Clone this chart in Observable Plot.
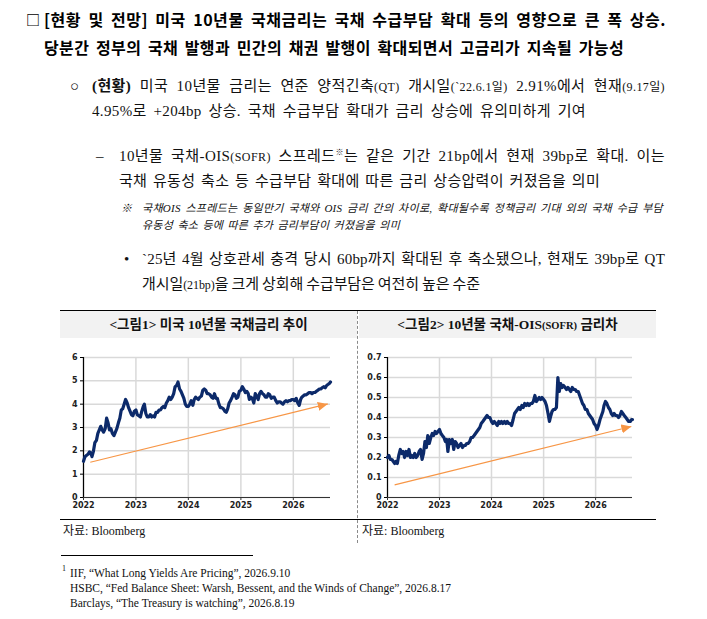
<!DOCTYPE html>
<html><head><meta charset="utf-8">
<script src="https://cdn.jsdelivr.net/npm/d3@7"></script>
<script src="https://cdn.jsdelivr.net/npm/@observablehq/plot@0.6"></script>
<style>
body{margin:0;background:#fff;}
#page{position:relative;width:707px;height:619px;overflow:hidden;font-family:"Liberation Serif","Noto Sans CJK KR",serif;color:#111;}
.ln{position:absolute;white-space:nowrap;}
.t{font-family:"Noto Sans CJK KR",sans-serif;font-weight:700;font-size:16px;line-height:20px;color:#000;}
.b{font-size:15px;line-height:20px;}
.sm{font-size:12px;}
.note{font-style:italic;font-size:11px;line-height:14px;}
.hdr{position:absolute;top:311px;height:27px;background:#f2f2f2;text-align:center;font-weight:700;font-size:13.5px;line-height:27px;}
.src{font-size:12px;line-height:16px;}
.fn{font-size:11.5px;line-height:15px;}
.chart{position:absolute;top:338px;}
sup{font-size:8px;line-height:0;}
</style></head>
<body><div id="page">
<div class="ln t" style="left:26px;top:9px;font-size:14px;">□</div>
<div class="ln t" data-r="666" style="left:44px;top:9px;">[현황 및 전망] 미국 10년물 국채금리는 국채 수급부담 확대 등의 영향으로 큰 폭 상승.</div>
<div class="ln t" data-r="624" style="left:44px;top:37px;">당분간 정부의 국채 발행과 민간의 채권 발행이 확대되면서 고금리가 지속될 가능성</div>

<div class="ln b" style="left:70px;top:76px;">○</div>
<div class="ln b" data-r="665" style="left:92px;top:76px;"><b>(현황)</b> 미국 10년물 금리는 연준 양적긴축<span class="sm">(QT)</span> 개시일<span class="sm">(`22.6.1일)</span> 2.91%에서 현재<span class="sm">(9.17일)</span></div>
<div class="ln b" data-r="586" style="left:92px;top:101px;">4.95%로 +204bp 상승. 국채 수급부담 확대가 금리 상승에 유의미하게 기여</div>

<div class="ln b" style="left:96px;top:146px;">–</div>
<div class="ln b" data-r="665" style="left:119px;top:146px;">10년물 국채-OIS<span class="sm">(SOFR)</span> 스프레드<sup>※</sup>는 같은 기간 21bp에서 현재 39bp로 확대. 이는</div>
<div class="ln b" data-r="600" style="left:119px;top:171px;">국채 유동성 축소 등 수급부담 확대에 따른 금리 상승압력이 커졌음을 의미</div>

<div class="ln note" style="left:121px;top:201px;">※</div>
<div class="ln note" data-r="663" style="left:142px;top:201px;">국채OIS 스프레드는 동일만기 국채와 OIS 금리 간의 차이로, 확대될수록 정책금리 기대 외의 국채 수급 부담</div>
<div class="ln note" data-r="400" style="left:142px;top:218px;">유동성 축소 등에 따른 추가 금리부담이 커졌음을 의미</div>

<div class="ln b" style="left:124px;top:249px;">•</div>
<div class="ln b" data-r="665" style="left:142px;top:249px;">`25년 4월 상호관세 충격 당시 60bp까지 확대된 후 축소됐으나, 현재도 39bp로 QT</div>
<div class="ln b" data-r="480" style="left:142px;top:274px;">개시일<span class="sm">(21bp)</span>을 크게 상회해 수급부담은 여전히 높은 수준</div>

<div style="position:absolute;left:60px;top:310px;width:596px;border-top:1.5px solid #000;"></div>
<div class="hdr" style="left:60px;width:297px;">&lt;그림1&gt; 미국 10년물 국채금리 추이</div>
<div class="hdr" style="left:359px;width:297px;">&lt;그림2&gt; 10년물 국채-OIS<span style="font-size:10.5px">(SOFR)</span> 금리차</div>
<div style="position:absolute;left:60px;top:519px;width:596px;border-top:1.2px solid #000;"></div>
<div style="position:absolute;left:357px;top:311px;height:232px;border-left:1px dashed #8a8a8a;"></div>
<div id="c1" class="chart" style="left:60px;"></div>
<div id="c2" class="chart" style="left:358px;"></div>
<div class="ln src" style="left:63px;top:523px;">자료: Bloomberg</div>
<div class="ln src" style="left:362px;top:523px;">자료: Bloomberg</div>

<div style="position:absolute;left:61px;top:555px;width:192px;border-top:1px solid #000;"></div>
<div class="ln" style="left:62px;top:564px;font-size:8px;line-height:9px;">1</div>
<div class="ln fn" style="left:70px;top:566px;">IIF, “What Long Yields Are Pricing”, 2026.9.10</div>
<div class="ln fn" data-r="451" style="left:70px;top:581px;">HSBC, “Fed Balance Sheet: Warsh, Bessent, and the Winds of Change”, 2026.8.17</div>
<div class="ln fn" style="left:70px;top:596px;">Barclays, “The Treasury is watching”, 2026.8.19</div>
</div>
<script>
// sampling days within each month (1st, 11th, 21st)
const sampleDays = [1, 11, 21];
const lastDate = "2026-09-17";

// US 10Y Treasury yield (%)
const ust2022 = [1.55,1.75,1.80, 1.85,1.95,1.92, 1.75,1.98,2.35, 2.45,2.75,2.90, 3.05,2.90,2.80, 2.95,3.40,3.20, 2.90,2.95,2.75, 2.65,2.80,2.95, 3.20,3.40,3.75, 3.80,4.00,4.20, 4.05,3.85,3.70, 3.55,3.50,3.70];
const ust2023 = [3.75,3.55,3.50, 3.45,3.70,3.90, 4.00,3.60,3.45, 3.45,3.55,3.45, 3.50,3.45,3.65, 3.65,3.75,3.75, 3.85,3.90,3.85, 4.05,4.15,4.30, 4.20,4.30,4.45, 4.75,4.80,4.95, 4.65,4.55,4.40, 4.25,4.00,3.90];
const ust2024 = [3.90,4.00,4.15, 3.95,4.20,4.30, 4.25,4.20,4.30, 4.35,4.60,4.65, 4.60,4.45,4.45, 4.40,4.30,4.25, 4.45,4.25,4.25, 4.00,3.85,3.85, 3.80,3.70,3.65, 3.80,4.05,4.15, 4.30,4.45,4.40, 4.25,4.30,4.55];
const ust2025 = [4.60,4.75,4.65, 4.50,4.55,4.45, 4.20,4.30,4.25, 4.05,4.45,4.35, 4.20,4.45,4.55, 4.45,4.40,4.30, 4.30,4.45,4.40, 4.25,4.30,4.30, 4.15,4.05,4.10, 4.10,4.05,4.00, 4.10,4.15,4.10, 4.15,4.15,4.20];
const ust2026 = [4.20,4.15,4.25, 4.05,3.95,4.20, 4.30,4.35,4.40, 4.40,4.45,4.50, 4.50,4.45,4.50, 4.50,4.55,4.60, 4.65,4.65,4.70, 4.75,4.70,4.80, 4.85,4.90];
const ustLast = 4.95;

// 10Y Treasury - OIS(SOFR) spread (%p)
const ois2022 = [0.20,0.21,0.19, 0.19,0.18,0.17, 0.18,0.17,0.21, 0.24,0.22,0.23, 0.20,0.23,0.21, 0.24,0.20,0.21, 0.20,0.22,0.20, 0.21,0.23,0.24, 0.19,0.22,0.28, 0.25,0.31,0.27, 0.30,0.32,0.31, 0.33,0.32,0.33];
const ois2023 = [0.34,0.32,0.31, 0.30,0.28,0.29, 0.23,0.29,0.27, 0.29,0.24,0.28, 0.27,0.25,0.26, 0.27,0.25,0.26, 0.26,0.27,0.27, 0.28,0.30,0.30, 0.31,0.32,0.33, 0.34,0.35,0.37, 0.38,0.39,0.40, 0.41,0.40,0.40];
const ois2024 = [0.38,0.37,0.38, 0.37,0.36,0.38, 0.37,0.38,0.37, 0.38,0.37,0.38, 0.37,0.37,0.36, 0.39,0.42,0.43, 0.44,0.45,0.44, 0.46,0.45,0.47, 0.46,0.47,0.46, 0.47,0.47,0.48, 0.51,0.48,0.49, 0.50,0.49,0.50];
const ois2025 = [0.49,0.48,0.46, 0.42,0.38,0.41, 0.43,0.44,0.44, 0.45,0.60,0.53, 0.57,0.55,0.56, 0.55,0.54,0.55, 0.54,0.53,0.55, 0.54,0.54,0.53, 0.53,0.51,0.49, 0.47,0.46,0.44, 0.44,0.42,0.41, 0.40,0.39,0.37];
const ois2026 = [0.36,0.34,0.36, 0.39,0.41,0.43, 0.46,0.48,0.47, 0.45,0.44,0.42, 0.41,0.42,0.41, 0.41,0.40,0.41, 0.43,0.42,0.41, 0.40,0.39,0.38, 0.38,0.39];
const oisLast = 0.39;

// axes
const xStart = "2022-01-01";
const xEnd = "2026-09-17";
const yearTicks = ["2022-01-01","2023-01-01","2024-01-01","2025-01-01","2026-01-01"];
const yTicks1 = [0,1,2,3,4,5,6];
const yTicks2 = [0,0.1,0.2,0.3,0.4,0.5,0.6,0.7];

// trend arrows [start date, start value, end date, end value]
const arrow1 = ["2022-02-17", 1.51, "2026-08-29", 4.01];
const arrow2 = ["2022-02-20", 0.063, "2026-09-09", 0.355];

function build(years, lastVal) {
  const out = [];
  years.forEach(([yr, vals]) => vals.forEach((v, i) => out.push({date: new Date(Date.UTC(yr, Math.floor(i / 3), sampleDays[i % 3])), v})));
  out.push({date: new Date(lastDate), v: lastVal});
  return out;
}
const ust = build([[2022, ust2022], [2023, ust2023], [2024, ust2024], [2025, ust2025], [2026, ust2026]], ustLast);
const ois = build([[2022, ois2022], [2023, ois2023], [2024, ois2024], [2025, ois2025], [2026, ois2026]], oisLast);

const navy = "#0c2a6a", orange = "#f79646", grid = "#d9d9d9";
const yt = yearTicks.map(d => new Date(d));

function chart(data, yDomain, yTicks, arrow, width, ml, mr) {
  const a = [{x1: new Date(arrow[0]), y1: arrow[1], x2: new Date(arrow[2]), y2: arrow[3]}];
  return Plot.plot({
    width, height: 181,
    marginLeft: ml, marginRight: mr, marginTop: 19, marginBottom: 22,
    style: {fontFamily: "DejaVu Sans", fontSize: "8px", fontWeight: "bold", color: "#222", background: "transparent", overflow: "visible"},
    x: {type: "utc", domain: [new Date(xStart), new Date(xEnd)], label: null},
    y: {domain: yDomain, label: null},
    marks: [
      Plot.gridX(yt, {stroke: grid, strokeOpacity: 1, strokeWidth: 1.5}),
      Plot.gridY(yTicks, {stroke: grid, strokeOpacity: 1, strokeWidth: 1.5}),
      Plot.axisX(yt, {tickFormat: d3.utcFormat("%Y"), tickSize: 3, tickPadding: 2, stroke: "#333"}),
      Plot.axisY(yTicks, {tickSize: 3, tickPadding: 3, stroke: "#000", tickFormat: d => String(d)}),
      Plot.ruleY([yDomain[0]], {stroke: "#333", strokeWidth: 1.2}),
      Plot.ruleX([new Date(xStart)], {stroke: "#000", strokeWidth: 1.2}),
      Plot.link(a, {x1: "x1", y1: "y1", x2: "x2", y2: "y2", stroke: orange, strokeWidth: 1.2}),
      Plot.line(data, {x: "date", y: "v", stroke: navy, strokeWidth: 3.2, strokeLinejoin: "round"})
    ]
  });
}

function addHead(svg, id) {
  const ns = "http://www.w3.org/2000/svg";
  const defs = document.createElementNS(ns, "defs");
  const m = document.createElementNS(ns, "marker");
  m.setAttribute("id", id);
  m.setAttribute("viewBox", "0 -5 10 10");
  m.setAttribute("refX", "10"); m.setAttribute("refY", "0");
  m.setAttribute("markerWidth", "10"); m.setAttribute("markerHeight", "10");
  m.setAttribute("markerUnits", "userSpaceOnUse"); m.setAttribute("orient", "auto");
  const p = document.createElementNS(ns, "path");
  p.setAttribute("d", "M0,-4.5L10,0L0,4.5Z");
  p.setAttribute("fill", orange);
  m.appendChild(p); defs.appendChild(m); svg.insertBefore(defs, svg.firstChild);
  svg.querySelectorAll('g[aria-label="link"] path').forEach(el => el.setAttribute("marker-end", `url(#${id})`));
}

const s1 = chart(ust, [0, 6], yTicks1, arrow1, 297, 23, 27);
addHead(s1, "ah1");
document.getElementById("c1").appendChild(s1);
const s2 = chart(ois, [0, 0.7], yTicks2, arrow2, 298, 29, 24);
addHead(s2, "ah2");
document.getElementById("c2").appendChild(s2);

// fit each text line to the span it occupies in the reference
function fit() {
  document.querySelectorAll("[data-r]").forEach(el => {
    el.style.wordSpacing = "0px"; el.style.letterSpacing = "0px";
    const left = parseFloat(el.style.left);
    const target = +el.dataset.r - left;
    const w = el.getBoundingClientRect().width;
    const text = el.textContent;
    const nSp = (text.match(/ /g) || []).length;
    const nCh = text.length;
    const extra = target - w;
    const ws = nSp ? extra * 0.6 / nSp : 0;
    const ls = extra * (nSp ? 0.4 : 1) / nCh;
    el.style.letterSpacing = ls + "px";
    el.style.wordSpacing = ws + "px";
  });
}
fit();
if (document.fonts && document.fonts.ready) document.fonts.ready.then(fit);
</script>
</body></html>
